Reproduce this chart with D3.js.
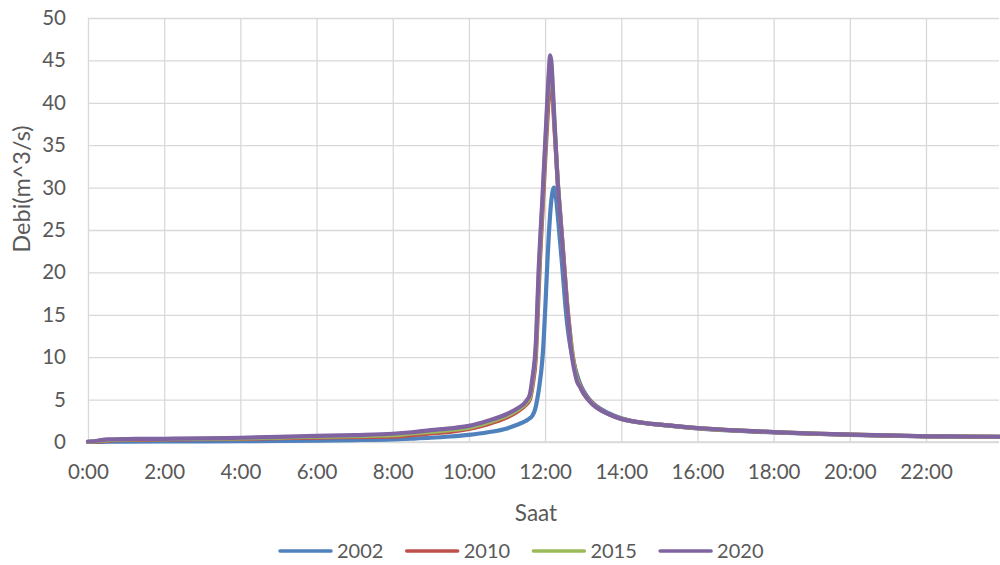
<!DOCTYPE html>
<html>
<head>
<meta charset="utf-8">
<script src="https://cdn.jsdelivr.net/npm/d3@7"></script>
<style>
  html, body { margin: 0; padding: 0; background: #ffffff; }
  svg { display: block; }
  text { font-family: Lato, "Noto Sans", sans-serif; fill: #595959; }
</style>
</head>
<body>
<svg id="chart" width="1000" height="565"></svg>
<script>
// Time of day, in minutes after midnight (denser sampling around the flood peak)
const minutes = [
  0, 15, 30, 60, 120, 180, 240, 300, 360, 420, 480, 510, 540, 570, 600, 630, 660, 675, 690, 696,
  700, 702, 704, 706, 708, 710, 712, 714, 716, 718, 720, 722, 724, 726, 728, 730, 732, 734,
  736, 738, 740, 742, 744, 746, 748, 750, 752, 754, 756, 758, 760, 762, 764, 766, 768, 770,
  775, 780, 790, 800, 820, 840, 870, 900, 960, 1020, 1080, 1140, 1200, 1260, 1320, 1380, 1435
];

// Discharge (m^3/s) per year
const q2002 = [
  0.0, 0.0, 0.03, 0.05, 0.06, 0.08, 0.1, 0.13, 0.17, 0.23, 0.32, 0.4, 0.5, 0.65, 0.85, 1.15, 1.6, 2.0, 2.5, 2.8,
  3.1, 3.4, 3.8, 4.4, 5.2, 6.1, 7.2, 8.4, 10.0, 12.4, 15.3, 18.6, 21.8, 24.6, 26.9, 28.6, 29.6, 30.0,
  29.6, 28.3, 26.7, 25.0, 23.3, 21.6, 19.8, 17.9, 16.1, 14.5, 13.2, 12.1, 11.2, 10.4, 9.7, 9.1, 8.5, 8.0,
  6.9, 6.1, 5.0, 4.3, 3.4, 2.8, 2.3, 2.05, 1.6, 1.33, 1.12, 0.97, 0.84, 0.74, 0.66, 0.62, 0.6
];
const q2010 = [
  0.0, 0.05, 0.15, 0.25, 0.3, 0.33, 0.38, 0.45, 0.52, 0.58, 0.62, 0.8, 1.0, 1.2, 1.55, 2.1, 2.9, 3.5, 4.4, 5.0,
  6.5, 7.5, 8.7, 10.8, 14.2, 18.0, 21.5, 24.5, 27.3, 30.2, 33.0, 35.8, 38.5, 41.0, 42.4, 42.2, 40.5, 38.0,
  35.5, 33.0, 30.5, 28.5, 26.7, 24.8, 22.9, 20.9, 18.9, 17.0, 15.3, 13.8, 12.4, 11.1, 10.0, 9.1, 8.3, 7.6,
  6.7, 5.9, 4.9, 4.2, 3.3, 2.75, 2.3, 2.05, 1.63, 1.36, 1.15, 0.99, 0.86, 0.76, 0.67, 0.64, 0.61
];
const q2015 = [
  0.0, 0.1, 0.22, 0.3, 0.34, 0.37, 0.43, 0.52, 0.62, 0.7, 0.8, 1.0, 1.2, 1.4, 1.7, 2.3, 3.1, 3.7, 4.6, 5.3,
  7.0, 8.2, 9.5, 11.8, 15.6, 19.6, 22.8, 25.7, 28.5, 31.5, 34.4, 37.4, 40.4, 43.0, 44.8, 44.3, 41.5, 38.7,
  36.0, 33.3, 30.7, 28.6, 26.7, 24.7, 22.7, 20.7, 18.7, 16.7, 15.0, 13.5, 12.2, 10.9, 9.8, 8.9, 8.1, 7.5,
  6.6, 5.8, 4.85, 4.15, 3.3, 2.72, 2.3, 2.05, 1.64, 1.37, 1.17, 1.0, 0.87, 0.77, 0.68, 0.65, 0.62
];
const q2020 = [
  0.05, 0.15, 0.3, 0.35, 0.38, 0.42, 0.5, 0.6, 0.72, 0.82, 0.97, 1.15, 1.4, 1.6, 1.9, 2.5, 3.3, 3.9, 4.8, 5.6,
  7.5, 8.6, 10.0, 12.5, 16.5, 20.5, 23.5, 26.3, 29.0, 32.0, 35.0, 38.0, 41.0, 43.8, 45.6, 44.8, 42.0, 39.0,
  36.0, 33.2, 30.5, 28.5, 26.5, 24.5, 22.5, 20.5, 18.5, 16.5, 14.8, 13.3, 11.5, 10.3, 9.3, 8.5, 7.8, 7.2,
  6.5, 5.8, 4.8, 4.1, 3.3, 2.7, 2.3, 2.05, 1.65, 1.38, 1.18, 1.0, 0.88, 0.78, 0.68, 0.65, 0.62
];

const seriesNames = ["2002", "2010", "2015", "2020"];
const seriesValues = [q2002, q2010, q2015, q2020];
const seriesColors = ["#4F81BD", "#C0504D", "#9BBB59", "#8064A2"];

// Axis ticks
const yTicks = [0, 5, 10, 15, 20, 25, 30, 35, 40, 45, 50];
const xTickMinutes = [0, 120, 240, 360, 480, 600, 720, 840, 960, 1080, 1200, 1320];
const xTickLabels = ["0:00", "2:00", "4:00", "6:00", "8:00", "10:00", "12:00", "14:00", "16:00", "18:00", "20:00", "22:00"];

const xTitle = "Saat";
const yTitle = "Debi(m^3/s)";

// ---- layout ----
const svg = d3.select("#chart");
const plot = { left: 88, right: 999, top: 18, bottom: 442 };

const x = d3.scaleLinear().domain([0, 1435]).range([plot.left, plot.right]);
const y = d3.scaleLinear().domain([0, 50]).range([plot.bottom, plot.top]);

const gridColor = "#d9d9d9";
const tickFont = 20.5;

// horizontal gridlines + y labels
const yAxis = svg.append("g")
  .attr("transform", `translate(${plot.left},0)`)
  .call(d3.axisLeft(y).tickValues(yTicks).tickSize(-(plot.right - plot.left)).tickPadding(22).tickFormat(d3.format("d")));
yAxis.select(".domain").remove();
yAxis.selectAll(".tick line").attr("stroke", gridColor).attr("stroke-width", 1.3);
yAxis.selectAll(".tick text")
  .attr("font-size", tickFont).attr("fill", "#595959")
  .style("font-family", "Lato, 'Noto Sans', sans-serif");

// vertical gridlines + x labels
const xAxis = svg.append("g")
  .attr("transform", `translate(0,${plot.bottom})`)
  .call(d3.axisBottom(x).tickValues(xTickMinutes).tickSize(-(plot.bottom - plot.top)).tickPadding(22)
    .tickFormat((d, i) => xTickLabels[i]));
xAxis.select(".domain").remove();
xAxis.selectAll(".tick line").attr("stroke", gridColor).attr("stroke-width", 1.3);
xAxis.selectAll(".tick text")
  .attr("font-size", tickFont).attr("fill", "#595959")
  .style("font-family", "Lato, 'Noto Sans', sans-serif");

// bottom axis line
svg.append("line")
  .attr("x1", plot.left).attr("x2", plot.right)
  .attr("y1", y(0)).attr("y2", y(0))
  .attr("stroke", gridColor).attr("stroke-width", 1.3);

// series lines
const line = d3.line()
  .x((d, i) => x(minutes[i]))
  .y(d => y(d))
  .curve(d3.curveMonotoneX);

svg.append("g").selectAll("path")
  .data(seriesValues)
  .join("path")
  .attr("d", d => line(d))
  .attr("fill", "none")
  .attr("stroke", (d, i) => seriesColors[i])
  .attr("stroke-width", 4.2)
  .attr("stroke-linejoin", "round")
  .attr("stroke-linecap", "round");

// axis titles
svg.append("text")
  .attr("x", 536).attr("y", 521)
  .attr("text-anchor", "middle")
  .attr("font-size", 22.5)
  .text(xTitle);

svg.append("text")
  .attr("transform", "translate(30,189) rotate(-90)")
  .attr("text-anchor", "middle")
  .attr("font-size", 23.5)
  .text(yTitle);

// legend
const legend = svg.append("g").attr("transform", "translate(280,551)");
const item = legend.selectAll("g")
  .data(seriesNames)
  .join("g")
  .attr("transform", (d, i) => `translate(${i * 126.7},0)`);
item.append("line")
  .attr("x1", 0).attr("x2", 51).attr("y1", 0).attr("y2", 0)
  .attr("stroke", (d, i) => seriesColors[i])
  .attr("stroke-width", 3.5)
  .attr("stroke-linecap", "round");
item.append("text")
  .attr("x", 57).attr("y", 0)
  .attr("dy", "0.35em")
  .attr("font-size", 20)
  .text(d => d);
</script>
</body>
</html>
